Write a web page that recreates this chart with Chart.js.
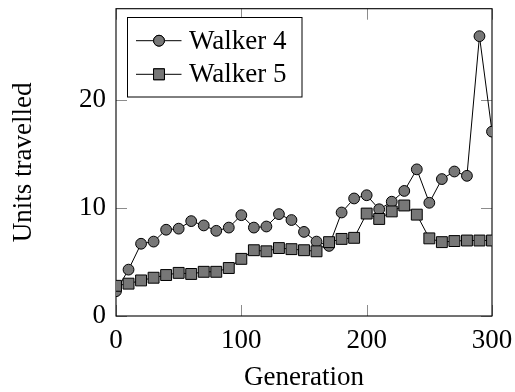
<!DOCTYPE html>
<html>
<head>
<meta charset="utf-8">
<script src="https://cdn.jsdelivr.net/npm/chart.js@4/dist/chart.umd.min.js"></script>
<style>
  html, body { margin: 0; padding: 0; background: #fff; }
  canvas { display: block; }
</style>
</head>
<body>
<canvas id="walkChart" width="515" height="392"></canvas>
<script>
// Distance travelled per generation for two walkers
const generations = [0, 10, 20, 30, 40, 50, 60, 70, 80, 90,
                     100, 110, 120, 130, 140, 150, 160, 170, 180, 190,
                     200, 210, 220, 230, 240, 250, 260, 270, 280, 290, 300];
const walker4 = [2.3, 4.3, 6.7, 6.9, 8.0, 8.1, 8.8, 8.4, 7.9, 8.2,
                 9.35, 8.2, 8.3, 9.45, 8.9, 7.8, 6.9, 6.5, 9.6, 10.9,
                 11.2, 9.9, 10.6, 11.6, 13.6, 10.5, 12.7, 13.4, 13.0, 25.95, 17.1];
const walker5 = [2.8, 3.0, 3.3, 3.55, 3.8, 4.0, 3.9, 4.1, 4.1, 4.45,
                 5.3, 6.1, 6.0, 6.3, 6.2, 6.1, 6.0, 6.85, 7.15, 7.25,
                 9.5, 9.0, 9.7, 10.25, 9.4, 7.2, 6.85, 6.95, 7.0, 7.0, 7.0];
const xTicks = [0, 100, 200, 300];
const yTicks = [0, 10, 20];

const FONT = 'Liberation Serif, Times New Roman, serif';
const FONT_SIZE = 27;
const MARK_FILL = '#777777';

function toPoints(values) {
    return generations.map((g, i) => ({ x: g, y: values[i] }));
}

// pgfplots-style frame with short grey ticks on all four sides
const framePlugin = {
    id: 'frame',
    beforeDatasetsDraw(chart) {
        const a = chart.chartArea;
        const c = chart.ctx;
        const xs = chart.scales.x, ys = chart.scales.y;
        const len = 11;
        c.save();
        c.strokeStyle = '#8c8c8c';
        c.lineWidth = 1;
        c.beginPath();
        xTicks.forEach(v => {
            const px = Math.round(xs.getPixelForValue(v)) + 0.5;
            c.moveTo(px, a.bottom); c.lineTo(px, a.bottom - len);
            c.moveTo(px, a.top); c.lineTo(px, a.top + len);
        });
        yTicks.forEach(v => {
            const py = Math.round(ys.getPixelForValue(v)) + 0.5;
            c.moveTo(a.left, py); c.lineTo(a.left + len, py);
            c.moveTo(a.right, py); c.lineTo(a.right - len, py);
        });
        c.stroke();
        c.strokeStyle = '#000';
        c.lineWidth = 1.1;
        c.strokeRect(a.left, a.top, a.right - a.left, a.bottom - a.top);
        c.restore();
    }
};

// Boxed legend in the upper-left corner of the plot
const legendPlugin = {
    id: 'boxLegend',
    afterDatasetsDraw(chart) {
        const a = chart.chartArea;
        const c = chart.ctx;
        const x0 = a.left + 11.5, y0 = 17.5, w = 174.5, h = 79.5;
        c.save();
        c.fillStyle = '#fff';
        c.fillRect(x0, y0, w, h);
        c.strokeStyle = '#000';
        c.lineWidth = 1;
        c.strokeRect(x0, y0, w, h);
        chart.data.datasets.forEach((ds, i) => {
            const cy = y0 + 23.2 + i * 33.6;
            c.strokeStyle = '#000';
            c.lineWidth = 1;
            c.beginPath();
            c.moveTo(x0 + 8.5, cy); c.lineTo(x0 + 54, cy);
            c.stroke();
            Chart.helpers.drawPoint(c, {
                pointStyle: ds.pointStyle,
                radius: ds.pointRadius,
                borderWidth: ds.pointBorderWidth,
                rotation: 0
            }, x0 + 31.5, cy);
            c.fillStyle = MARK_FILL;
            c.strokeStyle = '#000';
            c.fill();
            c.stroke();
            c.fillStyle = '#000';
            c.font = FONT_SIZE + 'px ' + FONT;
            c.textBaseline = 'middle';
            c.fillText(ds.label, x0 + 61.5, cy + 1);
        });
        c.restore();
    }
};

const ctx = document.getElementById('walkChart').getContext('2d');
new Chart(ctx, {
    type: 'line',
    data: {
        datasets: [
            {
                label: 'Walker 4',
                data: toPoints(walker4),
                borderColor: '#000',
                borderWidth: 1,
                backgroundColor: MARK_FILL,
                pointStyle: 'circle',
                pointRadius: 5.4,
                pointBackgroundColor: MARK_FILL,
                pointBorderColor: '#000',
                pointBorderWidth: 1,
                tension: 0,
                order: 1
            },
            {
                label: 'Walker 5',
                data: toPoints(walker5),
                borderColor: '#000',
                borderWidth: 1,
                backgroundColor: MARK_FILL,
                pointStyle: 'rect',
                pointRadius: 7.7,
                pointBackgroundColor: MARK_FILL,
                pointBorderColor: '#000',
                pointBorderWidth: 1,
                tension: 0,
                order: 0
            }
        ]
    },
    options: {
        responsive: false,
        animation: false,
        devicePixelRatio: 1,
        layout: { padding: { left: 0, right: 23, top: 7.5, bottom: 0 } },
        plugins: {
            legend: { display: false },
            tooltip: { enabled: false }
        },
        scales: {
            x: {
                type: 'linear',
                min: 0,
                max: 300,
                afterFit(scale) {
                    scale.height = 76;
                    scale.paddingLeft = 0;
                    scale.paddingRight = 0;
                },
                border: { display: false },
                grid: { display: false, drawTicks: false },
                ticks: {
                    stepSize: 100,
                    padding: 9,
                    maxRotation: 0,
                    color: '#000',
                    font: { family: FONT, size: FONT_SIZE }
                },
                title: {
                    display: true,
                    text: 'Generation',
                    color: '#000',
                    padding: { top: 0, bottom: -2 },
                    font: { family: FONT, size: FONT_SIZE }
                }
            },
            y: {
                type: 'linear',
                min: 0,
                max: 28.5,
                afterFit(scale) {
                    scale.width = 116;
                    scale.paddingTop = 0;
                    scale.paddingBottom = 0;
                },
                border: { display: false },
                grid: { display: false, drawTicks: false },
                ticks: {
                    stepSize: 10,
                    includeBounds: false,
                    padding: 10,
                    color: '#000',
                    font: { family: FONT, size: FONT_SIZE }
                },
                title: {
                    display: true,
                    text: 'Units travelled',
                    color: '#000',
                    padding: { top: 8, bottom: 0 },
                    font: { family: FONT, size: FONT_SIZE }
                }
            }
        }
    },
    plugins: [framePlugin, legendPlugin]
});
</script>
</body>
</html>
